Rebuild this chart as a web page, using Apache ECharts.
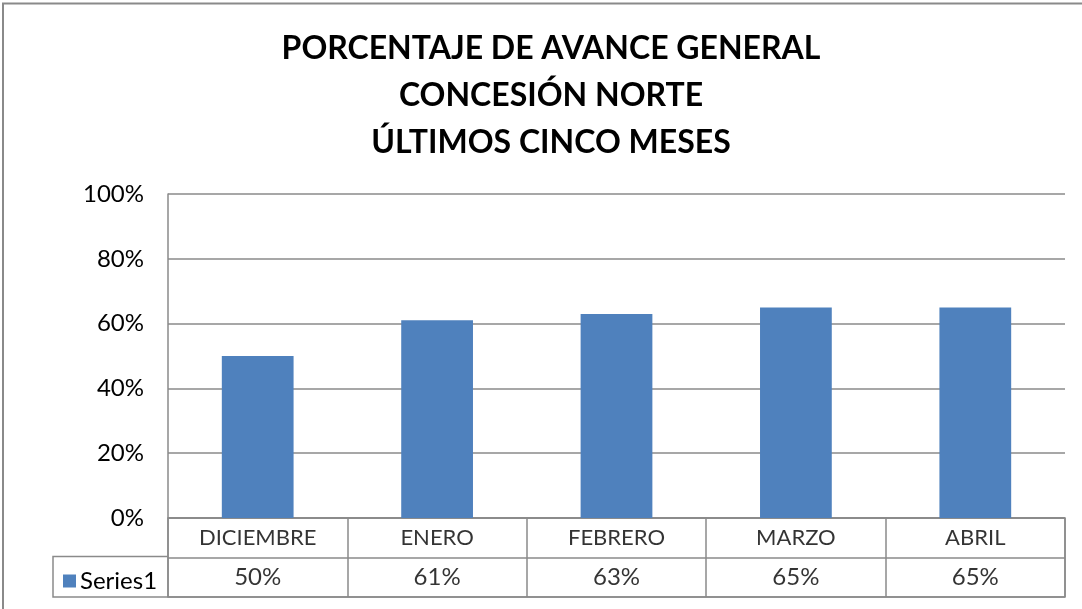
<!DOCTYPE html>
<html>
<head>
<meta charset="utf-8">
<script src="https://cdn.jsdelivr.net/npm/echarts@6/dist/echarts.min.js"></script>
<style>
  html, body { margin: 0; padding: 0; background: #fff; }
  #main { width: 1082px; height: 609px; }
</style>
</head>
<body>
<div id="main"></div>
<script>
// datos del gráfico
var meses = ['DICIEMBRE', 'ENERO', 'FEBRERO', 'MARZO', 'ABRIL'];
var avance = [0.50, 0.61, 0.63, 0.65, 0.65];
var nombreSerie = 'Series1';
var titulo = 'PORCENTAJE DE AVANCE GENERAL\nCONCESIÓN NORTE\nÚLTIMOS CINCO MESES';

var gris = '#8a8a8a';
var azul = '#4f81bd';
var fuente = 'Lato';

function pct(v) {
  return Math.round(v * 100) + '%';
}

// filas de la tabla de datos: nombre del mes arriba, valor abajo
var filaMeses = meses.map(function (m) { return [m, 'cat', m]; });
var filaValores = meses.map(function (m, i) { return [m, 'val', pct(avance[i])]; });

var chartDom = document.getElementById('main');
var myChart = echarts.init(chartDom);
var option;

option = {
  animation: false,
  backgroundColor: '#fff',
  textStyle: { fontFamily: fuente },
  title: {
    text: titulo,
    left: 546,
    textAlign: 'center',
    top: 20,
    textStyle: {
      fontFamily: fuente,
      fontSize: 32,
      fontWeight: 'bold',
      color: '#000',
      lineHeight: 47
    }
  },
  legend: {
    left: 58,
    top: 564,
    icon: 'rect',
    itemWidth: 13,
    itemHeight: 13,
    itemGap: 6,
    selectedMode: false,
    data: [nombreSerie],
    textStyle: { fontFamily: fuente, fontSize: 24, color: '#000', padding: [0, 0, 0, -1] }
  },
  graphic: [
    {
      type: 'polyline',
      silent: true,
      shape: { points: [[3, 609], [3, 3.5], [1082, 3.5]] },
      style: { stroke: gris, lineWidth: 2, fill: null }
    },
    {
      type: 'polyline',
      silent: true,
      shape: { points: [[168, 556.5], [53, 556.5], [53, 597], [168, 597]] },
      style: { stroke: gris, lineWidth: 1.5, fill: null }
    }
  ],
  grid: [
    { left: 168, right: 17, top: 194, height: 324 },
    { left: 168, right: 17, top: 518, height: 79, show: true, borderColor: gris, borderWidth: 1.5 }
  ],
  xAxis: [
    {
      type: 'category',
      gridIndex: 0,
      data: meses,
      axisLine: { show: false },
      axisTick: { show: false },
      axisLabel: { show: false }
    },
    {
      type: 'category',
      gridIndex: 1,
      data: meses,
      axisLine: { show: false },
      axisTick: { show: false },
      axisLabel: { show: false },
      splitLine: { show: true, interval: 0, lineStyle: { color: gris, width: 1.5 } }
    }
  ],
  yAxis: [
    {
      type: 'value',
      gridIndex: 0,
      min: 0,
      max: 1,
      interval: 0.2,
      axisLine: { show: true, lineStyle: { color: gris, width: 1.5 } },
      axisTick: { show: false },
      axisLabel: {
        formatter: function (v) { return pct(v); },
        fontFamily: fuente,
        fontSize: 24,
        color: '#000',
        margin: 24
      },
      splitLine: { lineStyle: { color: gris, width: 1.5 } }
    },
    {
      type: 'category',
      gridIndex: 1,
      data: ['val', 'cat'],
      axisLine: { show: false },
      axisTick: { show: false },
      axisLabel: { show: false },
      splitLine: { show: true, interval: 0, lineStyle: { color: gris, width: 1.5 } }
    }
  ],
  series: [
    {
      name: nombreSerie,
      type: 'bar',
      xAxisIndex: 0,
      yAxisIndex: 0,
      barWidth: '40%',
      itemStyle: { color: azul },
      data: avance
    },
    {
      type: 'scatter',
      xAxisIndex: 1,
      yAxisIndex: 1,
      symbolSize: 1,
      itemStyle: { color: 'rgba(0,0,0,0)' },
      silent: true,
      label: {
        show: true,
        position: 'inside',
        formatter: function (p) {
          return p.data[1] === 'val' ? '{v|' + p.data[2] + '}' : '{c|' + p.data[2] + '}';
        },
        color: '#000',
        rich: {
          c: { fontFamily: fuente, fontSize: 22, color: '#000' },
          v: { fontFamily: fuente, fontSize: 24, color: '#000' }
        }
      },
      data: filaMeses.concat(filaValores)
    }
  ]
};

option && myChart.setOption(option);
</script>
</body>
</html>
